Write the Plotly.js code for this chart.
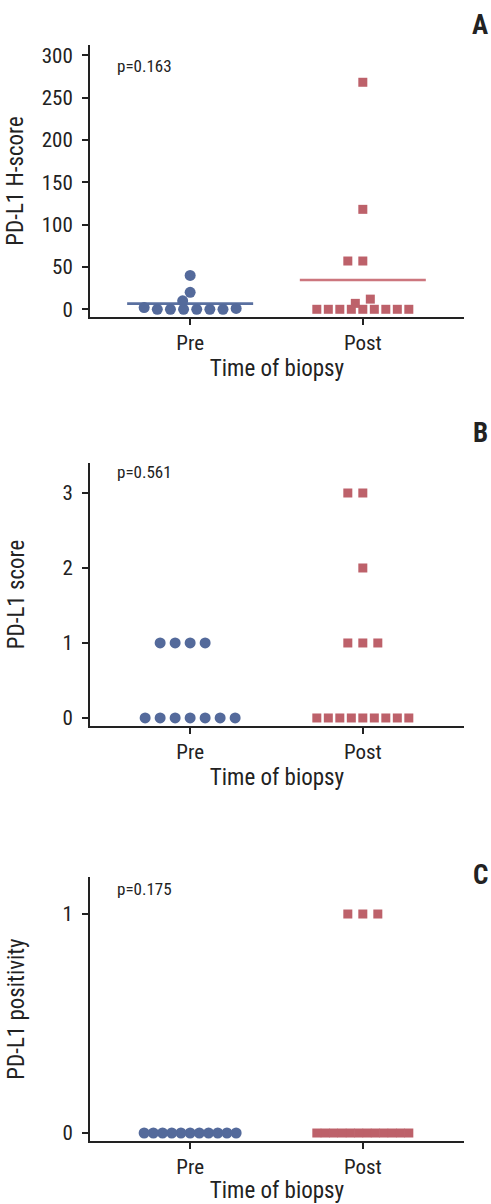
<!DOCTYPE html>
<html>
<head>
<meta charset="utf-8">
<script src="https://cdn.plot.ly/plotly-3.0.1.min.js"></script>
<style>html,body{margin:0;padding:0;background:#fff;}#chart{width:491px;height:1204px;}</style>
</head>
<body>
<div id="chart"></div>
<script>
// ---------------- data ----------------
const groups = ['Pre', 'Post'];
const hscorePre  = [0, 0, 0, 0, 0, 0, 1, 2, 10, 20, 40];
const hscorePost = [0, 0, 0, 0, 0, 0, 0, 0, 0, 7, 12, 57, 57, 118, 268];
const scorePre   = [0, 0, 0, 0, 0, 0, 0, 1, 1, 1, 1];
const scorePost  = [0, 0, 0, 0, 0, 0, 0, 0, 0, 1, 1, 1, 2, 3, 3];
const posPre     = [0, 0, 0, 0, 0, 0, 0, 0, 0, 0, 0];
const posPost    = [0, 0, 0, 0, 0, 0, 0, 0, 0, 0, 0, 0, 1, 1, 1];
const pValues    = ['p=0.163', 'p=0.561', 'p=0.175'];
const yTitles    = ['PD-L1 H-score', 'PD-L1 score', 'PD-L1 positivity'];
const panelTags  = ['A', 'B', 'C'];
const xTitle     = 'Time of biopsy';
const yTicksA = [0, 50, 100, 150, 200, 250, 300];
const yTicksB = [0, 1, 2, 3];
const yTicksC = [0, 1];

// ---------------- layout constants ----------------
const W = 491, H = 1204;
const FONT = '"Liberation Sans Narrow", "Arial Narrow", "Roboto Condensed", "Liberation Sans", sans-serif';
const BLUE = 'rgb(84,106,155)';
const RED = 'rgb(189,97,106)';
const BLUE_LINE = 'rgb(90,112,160)';
const RED_LINE = 'rgb(204,118,126)';
const INK = '#222';
const plotL = 90, plotR = 464;
const xRange = [-0.58, 1.586];
const panels = [
  {pre: hscorePre, post: hscorePost, top: 45,  bottom: 317,  range: [-9.1, 312],    ticks: yTicksA, meanLine: true,  standoff: 12},
  {pre: scorePre,  post: scorePost,  top: 463, bottom: 726,  range: [-0.107, 3.4],  ticks: yTicksB, meanLine: false, standoff: 31},
  {pre: posPre,    post: posPost,    top: 877, bottom: 1141, range: [-0.0365, 1.169], ticks: yTicksC, meanLine: false, standoff: 31}
];
const pxPerX = (plotR - plotL) / (xRange[1] - xRange[0]);

// simple beeswarm: horizontal offsets (px) computed from the values
function swarm(values, pxPerY, sameGap, diam, slot, maxHalf) {
  const order = values.map((v, i) => i).sort((a, b) => values[a] - values[b]);
  const placed = [];
  const off = new Array(values.length).fill(0);
  for (const i of order) {
    const y = values[i] * pxPerY;
    for (let k = 0; k < 500; k++) {
      const m = Math.ceil(k / 2);
      const x = k === 0 ? 0 : (k % 2 === 1 ? -m * slot : m * slot);
      const ok = placed.every(p => {
        const dx = Math.abs(p.x - x), dy = Math.abs(p.y - y);
        if (dy < 3) return dx >= sameGap - 1e-6;
        return Math.hypot(dx, dy) >= diam - 1e-6;
      });
      if (ok) { placed.push({x: x, y: y, i: i}); off[i] = x; break; }
    }
  }
  // compress rows that are too wide
  const sorted = placed.slice().sort((a, b) => a.y - b.y);
  let rows = [];
  for (const p of sorted) {
    const r = rows[rows.length - 1];
    if (r && Math.abs(p.y - r[0].y) < 3) r.push(p); else rows.push([p]);
  }
  rows.forEach(r => {
    const xs = r.map(p => p.x);
    const mn = Math.min(...xs), mx = Math.max(...xs);
    if (mx - mn > 2 * maxHalf) {
      r.forEach(p => { off[p.i] = -maxHalf + (p.x - mn) / (mx - mn) * 2 * maxHalf; });
    }
  });
  return off;
}
const mean = a => a.reduce((s, v) => s + v, 0) / a.length;

const traces = [];
const shapes = [];
const annotations = [];
const layout = {
  width: W, height: H,
  margin: {l: 0, r: 0, t: 0, b: 0},
  paper_bgcolor: '#fff', plot_bgcolor: '#fff',
  showlegend: false,
  font: {family: FONT, color: INK, size: 20},
  shapes: shapes, annotations: annotations
};

panels.forEach((pn, k) => {
  const sfx = k === 0 ? '' : String(k + 1);
  const xa = 'x' + sfx, ya = 'y' + sfx;
  const pxPerY = (pn.bottom - pn.top) / (pn.range[1] - pn.range[0]);
  const offPre = swarm(pn.pre, pxPerY, 15, 10, 7.5, 46);
  const offPost = swarm(pn.post, pxPerY, 15, 9, 7.5, 46);
  traces.push({
    type: 'scatter', mode: 'markers', xaxis: xa, yaxis: ya,
    x: pn.pre.map((v, i) => 0 + offPre[i] / pxPerX), y: pn.pre,
    marker: {symbol: 'circle', size: 11, color: BLUE, line: {width: 0}},
    hoverinfo: 'skip', cliponaxis: false
  });
  traces.push({
    type: 'scatter', mode: 'markers', xaxis: xa, yaxis: ya,
    x: pn.post.map((v, i) => 1 + offPost[i] / pxPerX), y: pn.post,
    marker: {symbol: 'square', size: 9, color: RED, line: {width: 0}},
    hoverinfo: 'skip', cliponaxis: false
  });
  if (pn.meanLine) {
    const hw = 63 / pxPerX;
    [[0, pn.pre, BLUE_LINE], [1, pn.post, RED_LINE]].forEach(([c, arr, col]) => {
      const m = mean(arr);
      shapes.push({type: 'line', xref: xa, yref: ya, x0: c - hw, x1: c + hw, y0: m, y1: m,
                   line: {color: col, width: 2.6}, layer: 'below'});
    });
  }
  layout['xaxis' + sfx] = {
    domain: [plotL / W, plotR / W], anchor: ya, range: xRange,
    tickmode: 'array', tickvals: [0, 1], ticktext: groups,
    showline: true, linecolor: INK, linewidth: 2, mirror: false,
    ticks: 'outside', ticklen: 6, tickwidth: 2, tickcolor: INK,
    showgrid: false, zeroline: false, fixedrange: true,
    tickfont: {family: FONT, size: 21, color: INK},
    title: {text: xTitle, font: {family: FONT, size: 23, color: INK}, standoff: 4}
  };
  layout['yaxis' + sfx] = {
    domain: [1 - pn.bottom / H, 1 - pn.top / H], anchor: xa, range: pn.range,
    tickmode: 'array', tickvals: pn.ticks,
    showline: true, linecolor: INK, linewidth: 2,
    ticks: 'outside', ticklen: 6, tickwidth: 2, tickcolor: INK, ticklabelstandoff: 5,
    showgrid: false, zeroline: false, fixedrange: true,
    tickfont: {family: FONT, size: 21, color: INK},
    title: {text: yTitles[k], font: {family: FONT, size: 23, color: INK}, standoff: pn.standoff}
  };
  // p-value label
  annotations.push({
    xref: 'paper', yref: 'paper', x: 115 / W, y: 1 - [66, 472, 889][k] / H,
    xanchor: 'left', yanchor: 'middle', showarrow: false,
    text: pValues[k], font: {family: FONT, size: 17, color: INK}
  });
  // panel tag
  annotations.push({
    xref: 'paper', yref: 'paper', x: 480 / W, y: 1 - [25, 433, 875][k] / H,
    xanchor: 'center', yanchor: 'middle', showarrow: false,
    text: '<b>' + panelTags[k] + '</b>', font: {family: FONT, size: 27, color: INK}
  });
});

Plotly.newPlot('chart', traces, layout, {staticPlot: true, displayModeBar: false});
</script>
</body>
</html>
